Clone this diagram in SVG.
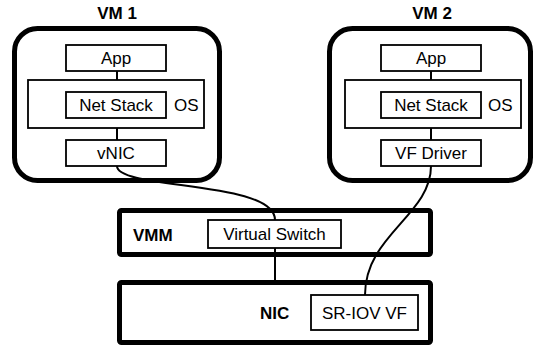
<svg xmlns="http://www.w3.org/2000/svg" width="536" height="347" viewBox="0 0 536 347">
<style>
text{font-family:"Liberation Sans",Arial,sans-serif;font-size:17px;fill:#000}
.b{font-weight:bold}
.c{text-anchor:middle}
.outer{fill:none;stroke:#000;stroke-width:5}
.box{fill:#fff;stroke:#000;stroke-width:1.8}
.ln{fill:none;stroke:#000;stroke-width:2}
</style>
<rect width="536" height="347" fill="#fff"/>
<g id="connectors">
<line class="ln" x1="117" y1="71" x2="117" y2="92"/>
<line class="ln" x1="117" y1="118" x2="117" y2="140"/>
<line class="ln" x1="431" y1="71" x2="431" y2="92"/>
<line class="ln" x1="431" y1="118" x2="431" y2="140"/>
<path class="ln" d="M117,166 C117,190 275,180 275,220"/>
<path class="ln" d="M431,166 C431,215 365,235 365,295"/>
<line class="ln" x1="275" y1="248" x2="275" y2="282"/>
</g>
<g id="vm1">
<text class="b c" x="117" y="19">VM 1</text>
<rect class="outer" x="14.5" y="28.5" width="205" height="152" rx="23"/>
</g>
<g id="vm1-os">
<rect class="box" x="28" y="80" width="176" height="48"/>
<text x="174" y="111">OS</text>
</g>
<g id="vm1-app"><rect class="box" x="66" y="45" width="100" height="26"/><text class="c" x="116" y="64">App</text></g>
<g id="vm1-netstack"><rect class="box" x="66" y="92" width="100" height="26"/><text class="c" x="116" y="111">Net Stack</text></g>
<g id="vm1-vnic"><rect class="box" x="66" y="140" width="100" height="26"/><text class="c" x="116" y="159">vNIC</text></g>
<g id="vm2">
<text class="b c" x="432" y="19">VM 2</text>
<rect class="outer" x="329.5" y="28.5" width="201" height="152" rx="23"/>
</g>
<g id="vm2-os">
<rect class="box" x="345" y="80" width="176" height="48"/>
<text x="488" y="111">OS</text>
</g>
<g id="vm2-app"><rect class="box" x="381" y="45" width="100" height="26"/><text class="c" x="431" y="64">App</text></g>
<g id="vm2-netstack"><rect class="box" x="381" y="92" width="100" height="26"/><text class="c" x="431" y="111">Net Stack</text></g>
<g id="vm2-vfdriver"><rect class="box" x="381" y="140" width="100" height="26"/><text class="c" x="431" y="159">VF Driver</text></g>
<g id="vmm">
<rect class="outer" x="119.5" y="210.5" width="311" height="44" rx="2"/>
<text class="b" x="133" y="241">VMM</text>
</g>
<g id="virtual-switch"><rect class="box" x="208" y="220" width="133" height="28"/><text class="c" x="274.5" y="240">Virtual Switch</text></g>
<g id="nic">
<rect class="outer" x="119.5" y="282.5" width="311" height="60" rx="2"/>
<text class="b" x="260" y="319">NIC</text>
</g>
<g id="sriov-vf"><rect class="box" x="311" y="295" width="107" height="35"/><text class="c" x="364.5" y="319">SR-IOV VF</text></g>
</svg>
